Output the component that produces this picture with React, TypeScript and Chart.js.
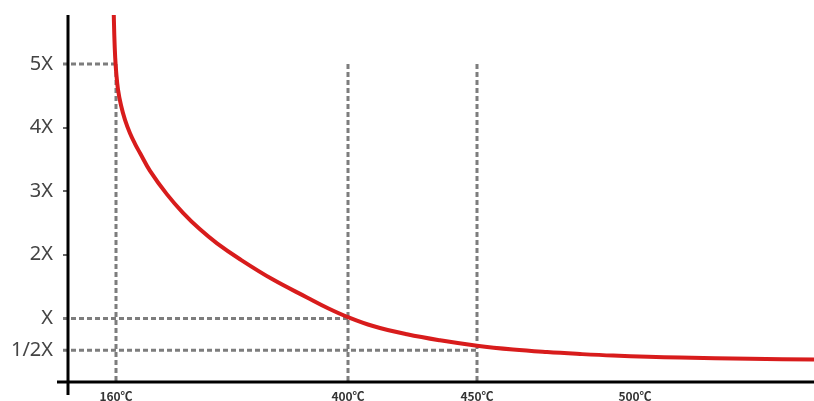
import React, { useEffect, useRef } from "react";
import { Chart, registerables } from "chart.js";

Chart.register(...registerables);

// x values are positions along the (schematic, non-linear) temperature axis
const curveX = [45.6, 46.3, 47.2, 48.3, 50, 53, 57, 62, 67, 72, 82, 99, 115, 132, 149, 172, 205, 239, 260, 280, 305, 339, 372, 409, 445, 479, 512, 545, 580, 612, 682, 746];
const curveY = [5.9, 5.45, 5.1, 4.85, 4.6, 4.35, 4.12, 3.91, 3.745, 3.6, 3.32, 2.95, 2.66, 2.4, 2.18, 1.93, 1.61, 1.33, 1.16, 1.02, 0.88, 0.75, 0.655, 0.57, 0.51, 0.47, 0.44, 0.415, 0.397, 0.385, 0.365, 0.355];

const xTickPositions = [48, 280, 409, 567];
const xTickLabels = ["160℃", "400℃", "450℃", "500℃"];

const yTickValues = [5, 4, 3, 2, 1, 0.5];
const yTickLabels = ["5X", "4X", "3X", "2X", "X", "1/2X"];

// dashed guide lines: vertical at guideX up to guideTop, horizontal at guideLevel
const guideX = [48, 280, 409];
const guideLevel = [5, 1, 0.5];
const guideTop = [5, 5, 5];

const X_MIN = 0;
const X_MAX = 746;
const Y_MIN = 0;
const Y_MAX = 5.77;

export default function App() {
  const ref = useRef<HTMLCanvasElement | null>(null);

  useEffect(() => {
    if (!ref.current) return;

    const guidePlugin = {
      id: "guides",
      beforeDatasetsDraw(chart: any) {
        const { ctx, scales } = chart;
        const xs = scales.x;
        const ys = scales.y;
        const axisX = xs.getPixelForValue(X_MIN);
        ctx.save();
        ctx.strokeStyle = "#7d7d7d";
        ctx.lineWidth = 3;
        ctx.setLineDash([5, 3]);
        for (let i = 0; i < guideX.length; i++) {
          const px = xs.getPixelForValue(guideX[i]);
          const py = ys.getPixelForValue(guideLevel[i]);
          const top = ys.getPixelForValue(guideTop[i]);
          const bottom = ys.getPixelForValue(Y_MIN);
          ctx.beginPath();
          ctx.moveTo(px, top);
          ctx.lineTo(px, bottom);
          ctx.stroke();
          ctx.beginPath();
          ctx.moveTo(axisX - 5, py);
          ctx.lineTo(px, py);
          ctx.stroke();
        }
        ctx.restore();
      },
      afterDraw(chart: any) {
        const { ctx, scales } = chart;
        const xs = scales.x;
        const ys = scales.y;
        const x0 = xs.getPixelForValue(X_MIN);
        const x1 = xs.getPixelForValue(X_MAX);
        const y0 = ys.getPixelForValue(Y_MIN);
        const y1 = ys.getPixelForValue(Y_MAX);
        ctx.save();
        ctx.strokeStyle = "#000";
        ctx.lineWidth = 3;
        ctx.setLineDash([]);
        ctx.beginPath();
        ctx.moveTo(x0, y1);
        ctx.lineTo(x0, y0 + 13);
        ctx.stroke();
        ctx.beginPath();
        ctx.moveTo(x0 - 11, y0);
        ctx.lineTo(x1, y0);
        ctx.stroke();
        ctx.restore();
      },
    };

    const chart = new Chart(ref.current, {
      type: "line",
      data: {
        datasets: [
          {
            data: curveX.map((x, i) => ({ x, y: curveY[i] })),
            borderColor: "#d81c1c",
            borderWidth: 4,
            pointRadius: 0,
            tension: 0.4,
            fill: false,
            clip: 0,
          } as any,
        ],
      },
      options: {
        animation: false,
        responsive: true,
        maintainAspectRatio: false,
        layout: { padding: { top: 15, right: 0, left: 0, bottom: 0 } },
        plugins: {
          legend: { display: false },
          tooltip: { enabled: false },
        },
        scales: {
          x: {
            type: "linear",
            min: X_MIN,
            max: X_MAX,
            border: { display: false },
            grid: { display: false, drawTicks: false },
            afterBuildTicks(scale: any) {
              scale.ticks = xTickPositions.map((v) => ({ value: v }));
            },
            afterFit(scale: any) {
              scale.height = 19;
              scale.paddingLeft = 0;
              scale.paddingRight = 0;
            },
            ticks: {
              autoSkip: false,
              maxRotation: 0,
              padding: 7,
              color: "#333",
              font: { family: "'Noto Sans CJK SC', 'Noto Sans'", size: 12, weight: "bold" },
              callback: (value: any) => {
                const i = xTickPositions.indexOf(Number(value));
                return i >= 0 ? xTickLabels[i] : "";
              },
            },
          },
          y: {
            type: "linear",
            min: Y_MIN,
            max: Y_MAX,
            border: { display: false },
            grid: {
              drawOnChartArea: false,
              drawTicks: true,
              tickLength: 5,
              color: "#666",
              lineWidth: 2,
            },
            afterBuildTicks(scale: any) {
              scale.ticks = yTickValues.map((v) => ({ value: v }));
            },
            afterFit(scale: any) {
              scale.width = 68;
              scale.paddingTop = 0;
              scale.paddingBottom = 0;
            },
            ticks: {
              autoSkip: false,
              padding: 10,
              color: "#444",
              font: { family: "'Noto Sans'", size: 20 },
              callback: (value: any) => {
                const i = yTickValues.indexOf(Number(value));
                return i >= 0 ? yTickLabels[i] : "";
              },
            },
          },
        },
      },
      plugins: [guidePlugin],
    });

    return () => chart.destroy();
  }, []);

  return (
    <div style={{ position: "fixed", left: 0, top: 0, width: 814, height: 401, background: "#fff" }}>
      <canvas ref={ref} />
    </div>
  );
}
